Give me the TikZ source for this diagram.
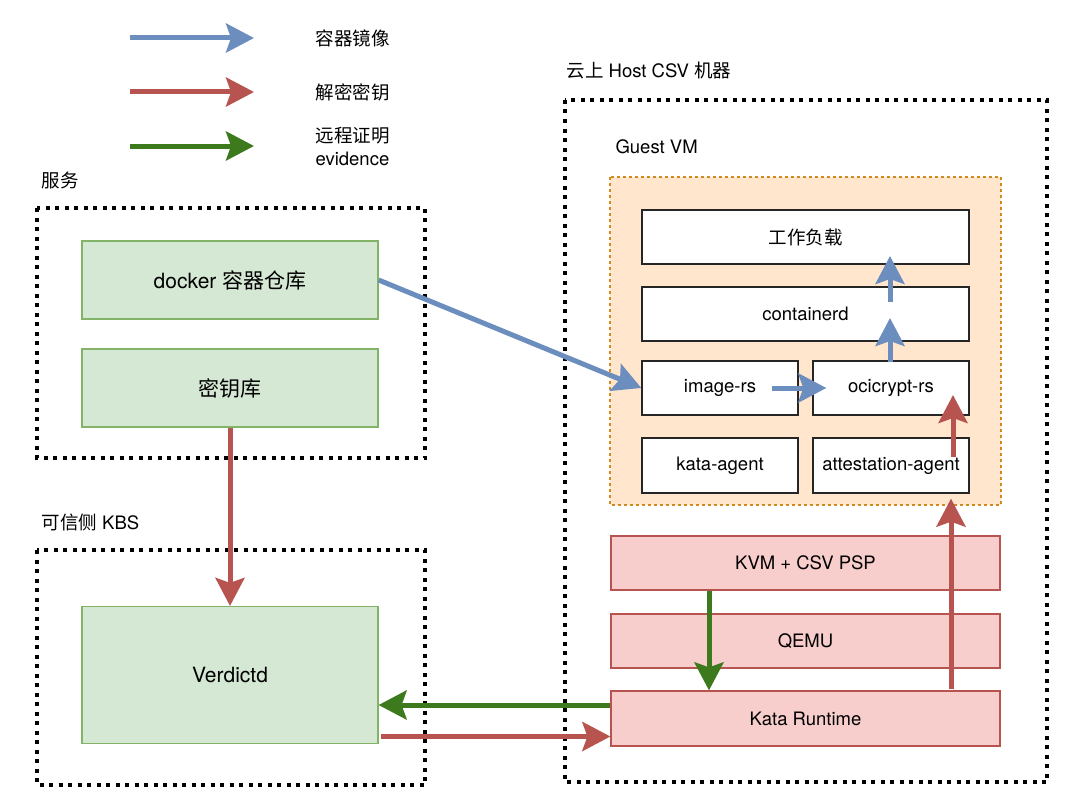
\documentclass[tikz,border=0pt]{standalone}
\usepackage{fontspec}
\setmainfont{TeX Gyre Heros}
\newfontfamily\cjk{Noto Sans CJK SC}
\usetikzlibrary{arrows.meta,calc}
\definecolor{imgblue}{HTML}{6C8EBF}
\definecolor{keyred}{HTML}{B85450}
\definecolor{evigreen}{HTML}{3D7A1E}
\definecolor{svcfill}{HTML}{D5E8D4}
\definecolor{svcline}{HTML}{82B366}
\definecolor{hostfill}{HTML}{F8CECC}
\definecolor{hostline}{HTML}{B85450}
\definecolor{vmfill}{HTML}{FFE6CC}
\definecolor{vmline}{HTML}{D08A20}
\begin{document}
\begin{tikzpicture}[x=1pt,y=-1pt,
	every node/.style={font=\fontsize{18.5}{23}\selectfont},
	frame/.style={draw=black,line width=4pt,dash pattern=on 4pt off 5.5pt},
	svcbox/.style={draw=svcline,fill=svcfill,line width=1.2pt,minimum width=296pt,minimum height=78pt,inner sep=0pt,font=\fontsize{21}{25}\selectfont},
	vmbox/.style={draw=black!85,fill=white,line width=1.3pt,minimum width=156pt,minimum height=54pt,inner sep=0pt},
	hostbox/.style={draw=hostline,fill=hostfill,line width=1.2pt,minimum width=389pt,minimum height=54pt,inner sep=0pt},
	flow/.style={line width=5pt,-{Stealth[length=28pt,width=29pt,inset=5pt]}},
	imgflow/.style={flow,draw=imgblue,color=imgblue},
	keyflow/.style={flow,draw=keyred,color=keyred},
	eviflow/.style={flow,draw=evigreen,color=evigreen}
]
\useasboundingbox (0,0) rectangle (1080,808);

% legend
\node[anchor=west] (lgimg) at (312,38) {\cjk 容器镜像};
\node[anchor=west] (lgkey) at (312,92) {\cjk 解密密钥};
\node[anchor=west,align=left] (lgevi) at (312,146.5) {{\cjk 远程证明}\\evidence};
\coordinate (lgimgA) at (130,38);
\coordinate (lgimgB) at (254,38);
\coordinate (lgkeyA) at (130,92);
\coordinate (lgkeyB) at (254,92);
\coordinate (lgeviA) at (130,146);
\coordinate (lgeviB) at (254,146);
\draw[imgflow] (lgimgA) -- (lgimgB);
\draw[keyflow] (lgkeyA) -- (lgkeyB);
\draw[eviflow] (lgeviA) -- (lgeviB);

% frames
\node[anchor=west] (svclabel) at (38,180) {\cjk 服务};
\draw[frame] (37,208) rectangle (425,458);
\node[anchor=west] (kbslabel) at (38,522) {{\cjk 可信侧} KBS};
\draw[frame] (37,550) rectangle (425,785);
\node[anchor=west] (hostlabel) at (563,70) {{\cjk 云上} Host CSV {\cjk 机器}};
\draw[frame] (565,100) rectangle (1047,782);
\node[anchor=west] (vmlabel) at (612,147) {Guest VM};
\draw[draw=vmline,fill=vmfill,line width=1.5pt,dash pattern=on 3pt off 3pt] (610,177) rectangle (1001,505);

% service side
\node[svcbox] (docker) at (230,280) {docker {\cjk 容器仓库}};
\node[svcbox] (keylib) at (230,388) {\cjk 密钥库};
\node[svcbox,minimum height=137pt] (verdictd) at (230,675) {Verdictd};

% guest vm
\node[vmbox,minimum width=327pt] (work) at (805.5,237) {\cjk 工作负载};
\node[vmbox,minimum width=327pt] (containerd) at (805.5,314) {containerd};
\node[vmbox] (imagers) at (720,388) {image-rs};
\node[vmbox] (ocicrypt) at (891,388) {ocicrypt-rs};
\node[vmbox,minimum height=55pt] (kataagent) at (720,465.5) {kata-agent};
\node[vmbox,minimum height=55pt] (attagent) at (891,465.5) {attestation-agent};

% host
\node[hostbox] (kvm) at (805.5,563) {KVM + CSV PSP};
\node[hostbox] (qemu) at (805.5,641) {QEMU};
\node[hostbox,minimum height=55pt] (kataruntime) at (805.5,718.5) {Kata Runtime};

% image path
\draw[imgflow] (docker.east) -- (imagers.west);
\draw[imgflow] ($(imagers.east)+(-27,0)$) -- ($(ocicrypt.west)+(14,0)$);
\draw[imgflow] ($(ocicrypt.north)+(-1,2)$) -- ($(ocicrypt.north |- containerd.center)+(-1,4)$);
\draw[imgflow] ($(ocicrypt.north |- containerd.center)+(-1,-12)$) -- ($(ocicrypt.north |- work.center)+(-1,19)$);

% key path
\draw[keyflow] (keylib.south) -- (verdictd.north);
\draw[keyflow] ($(verdictd.east |- kataruntime.west)+(2,18)$) -- ($(kataruntime.west)+(0,18)$);
\draw[keyflow] ($(kataruntime.north)+(145.5,-1)$) -- ($(attagent.south)+(60,5)$);
\draw[keyflow] ($(attagent.center)+(62,-9)$) -- ($(ocicrypt.center)+(62,7)$);

% evidence path
\draw[eviflow] ($(kvm.south)+(-96.5,0)$) -- ($(kataruntime.north)+(-96.5,0)$);
\draw[eviflow] ($(kataruntime.west)+(0,-13.5)$) -- ($(verdictd.east |- kataruntime.west)+(0,-13.5)$);
\end{tikzpicture}
\end{document}
